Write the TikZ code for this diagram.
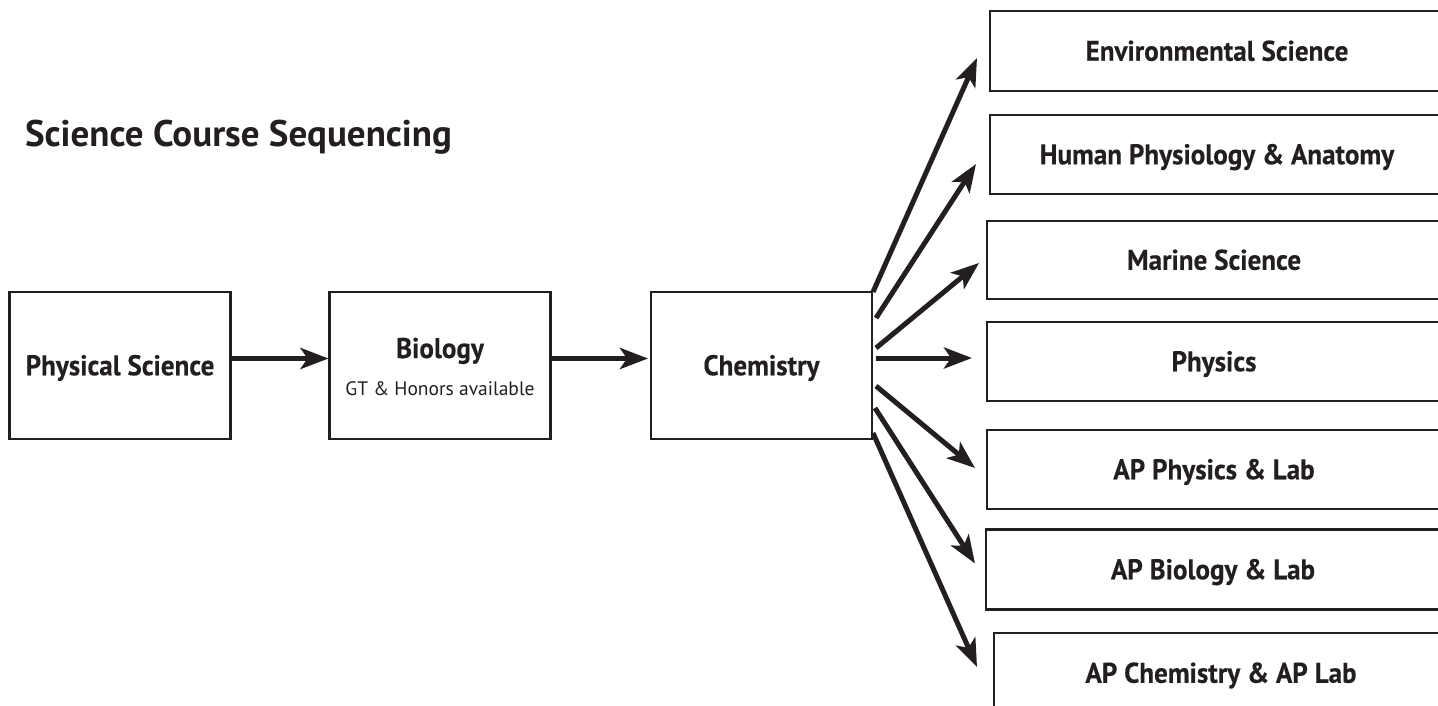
\documentclass[tikz,border=0pt]{standalone}
\usepackage{fontspec}
\setmainfont{PT Sans}
\newfontfamily\boxfont{PT Sans}[FakeStretch=0.95, FakeBold=0.3]
\usetikzlibrary{arrows.meta}
\definecolor{ink}{HTML}{231F20}
\begin{document}
\begin{tikzpicture}[x=1pt,y=-1pt,
  every node/.style={inner sep=0pt, outer sep=0pt, text=ink},
  box/.style={draw=ink, line width=2.8pt, rectangle,
    font=\boxfont\fontsize{28.5pt}{31pt}\selectfont\bfseries,
    text height=19.5pt, text depth=0pt},
  lbox/.style={box, minimum width=221pt, minimum height=147pt},
  rbox/.style={box, minimum width=454pt, minimum height=79pt},
  flow/.style={draw=ink, line width=5pt,
    -{Stealth[length=28pt, width=21pt, inset=7pt]}},
  heading/.style={font=\fontsize{37pt}{40pt}\selectfont\bfseries, anchor=base west},
  note/.style={font=\fontsize{19.5pt}{23pt}\selectfont, anchor=base}
]
\useasboundingbox (0,0) rectangle (1438,706);

% title
\node[heading] (title) at (25,147) {Science Course Sequencing};

% main chain
\node[lbox] (phys) at (120,365.5) {Physical Science};
\node[lbox, text height=0pt] (bio) at (440,365.5) {};
\node[box, draw=none, anchor=base] (biot) at (440,358) {Biology};
\node[note] (biosub) at (440,395) {GT \& Honors available};
\node[lbox] (chem) at (761.5,365.5) {Chemistry};

% follow-on courses
\node[rbox, minimum height=80pt] (env)   at (1217,51)    {Environmental Science};
\node[rbox] (hpa)   at (1217,154.5) {Human Physiology \& Anatomy};
\node[rbox, minimum height=78pt] (mar)   at (1214,260)   {Marine Science};
\node[rbox] (phy)   at (1214,361.5) {Physics};
\node[rbox] (apphy) at (1214,469.5) {AP Physics \& Lab};
\node[rbox, minimum height=80pt] (apbio) at (1213,569.5) {AP Biology \& Lab};
\node[rbox, minimum height=80pt] (apchem) at (1221,673) {AP Chemistry \& AP Lab};

% arrows along the chain
\draw[flow] ([yshift=7pt]phys.east) -- ([xshift=-1pt,yshift=7pt]bio.west);
\draw[flow] ([yshift=7pt]bio.east) -- ([xshift=-3pt,yshift=7pt]chem.west);

% fan of arrows out of chemistry
\draw[flow] ([xshift=1pt,yshift=73.5pt]chem.east)  -- ([xshift=-13pt,yshift=-7pt]env.west);
\draw[flow] ([xshift=4pt,yshift=47.5pt]chem.east)  -- ([xshift=-14pt,yshift=-9.5pt]hpa.west);
\draw[flow] ([xshift=4pt,yshift=17.5pt]chem.east)  -- ([xshift=-8pt,yshift=-3pt]mar.west);
\draw[flow] ([xshift=4pt,yshift=7.5pt]chem.east)   -- ([xshift=-15pt,yshift=3.5pt]phy.west);
\draw[flow] ([xshift=4pt,yshift=-20.5pt]chem.east) -- ([xshift=-12pt,yshift=1.5pt]apphy.west);
\draw[flow] ([xshift=3pt,yshift=-42.5pt]chem.east) -- ([xshift=-11pt,yshift=6pt]apbio.west);
\draw[flow] ([xshift=1pt,yshift=-67.5pt]chem.east) -- ([xshift=-17pt,yshift=6pt]apchem.west);
\end{tikzpicture}
\end{document}
